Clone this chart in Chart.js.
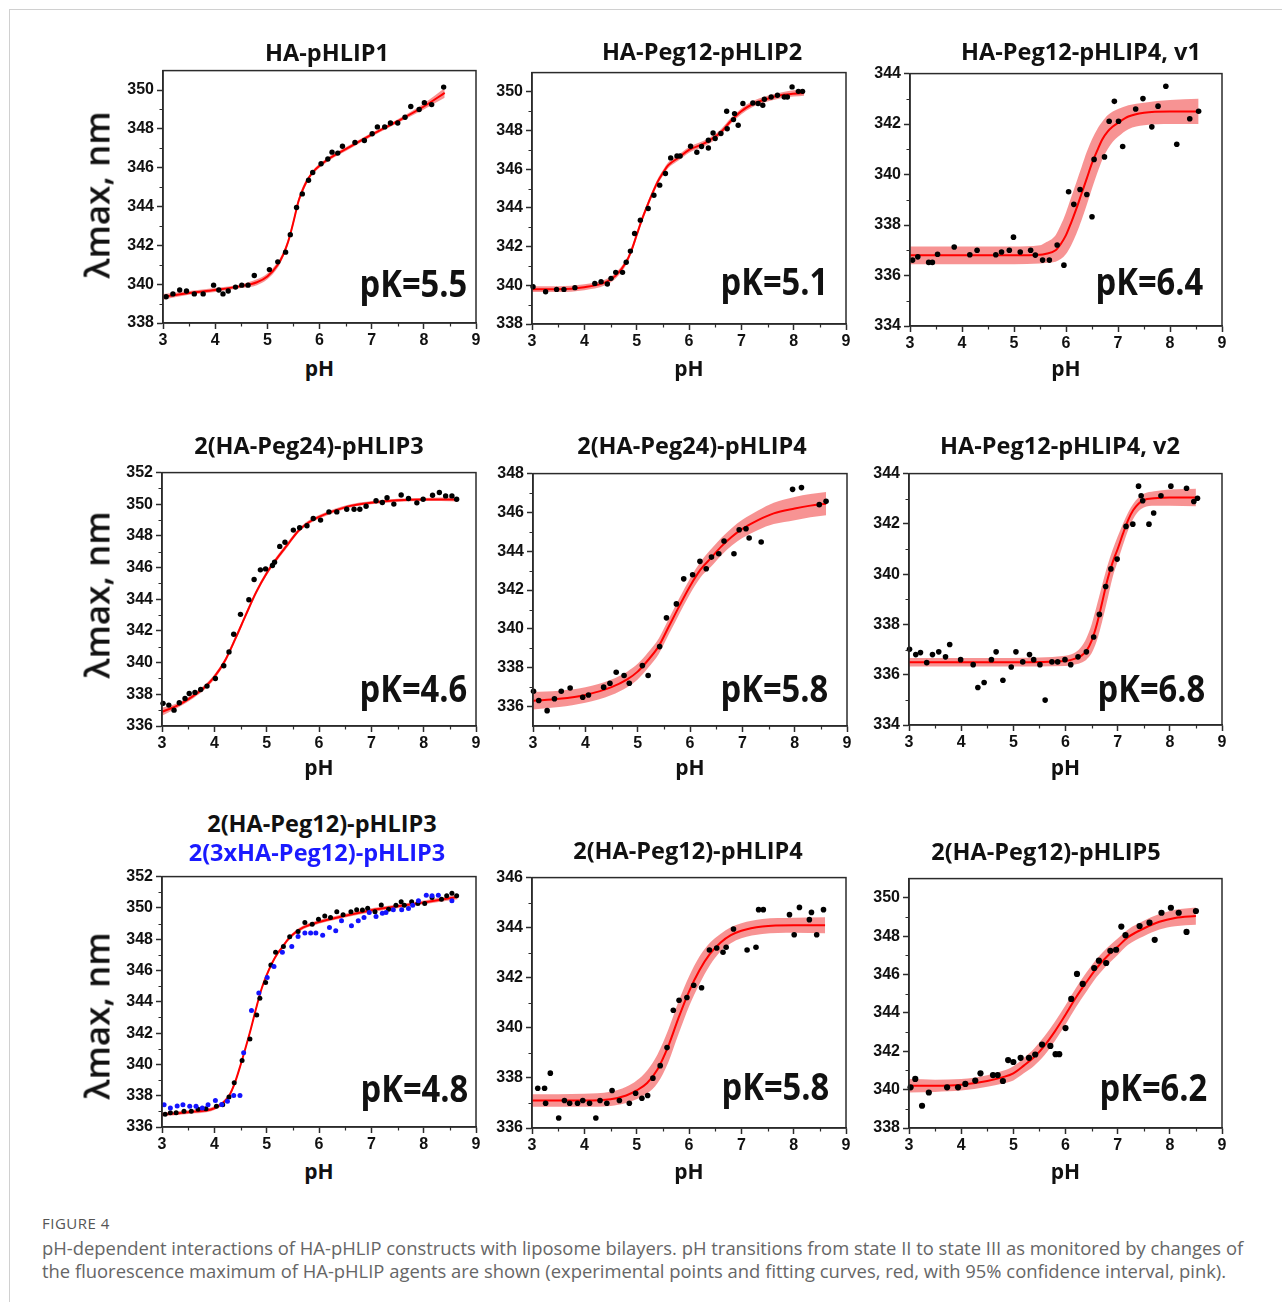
<!DOCTYPE html>
<html>
<head>
<meta charset="utf-8">
<script src="https://cdn.jsdelivr.net/npm/chart.js@4.4.1/dist/chart.umd.min.js"></script>
<style>
  body { margin: 0; width: 1282px; height: 1302px; background: #fff; position: relative; overflow: hidden; font-family: "Open Sans", sans-serif; }
  .frame { position: absolute; left: 9px; top: 9px; width: 1400px; height: 1400px; border-left: 1.5px solid #d0d0d0; border-top: 1.5px solid #d0d0d0; }
  .title { position: absolute; font-weight: 700; font-size: 23.5px; line-height: 1; white-space: nowrap; color: #111; transform: translateX(-50%); }
  .pk { position: absolute; font-weight: 700; font-size: 38px; line-height: 1; white-space: nowrap; color: #111; transform-origin: 100% 0; transform: scaleX(0.86); }
  .phlab { position: absolute; font-weight: 700; font-size: 21px; line-height: 1; color: #111; transform: translateX(-50%); }
  .ylab { position: absolute; font-size: 35px; font-weight: 600; line-height: 1; white-space: nowrap; color: #111; transform: translate(-50%, -50%) rotate(-90deg); }
  .fig { position: absolute; left: 42px; top: 1213px; font-size: 15px; color: #555; letter-spacing: 0.5px; }
  .cap { position: absolute; left: 42px; font-size: 18.4px; color: #666; white-space: nowrap; }
</style>
</head>
<body>
<div class="frame"></div>
<script>
// shared x ticks
const xTicks = [3, 4, 5, 6, 7, 8, 9];

// HA-pHLIP1
const p1Ticks = [338, 340, 342, 344, 346, 348, 350];
const p1PH = [3.06,3.19,3.32,3.45,3.6,3.77,3.97,4.07,4.15,4.25,4.39,4.51,4.63,4.75,5.04,5.2,5.35,5.44,5.56,5.67,5.79,5.87,6.03,6.16,6.24,6.35,6.44,6.68,6.86,7.01,7.11,7.25,7.36,7.5,7.64,7.75,7.91,8.01,8.15,8.38];
const p1Lam = [339.35,339.5,339.7,339.65,339.5,339.5,339.95,339.7,339.5,339.65,339.85,339.95,339.95,340.45,340.75,341.15,341.65,342.55,343.95,344.65,345.35,345.75,346.2,346.45,346.8,346.75,347.1,347.3,347.4,347.75,348.1,348.1,348.3,348.3,348.6,349.15,349.0,349.35,349.25,350.15];
const p1FitPH = [3.0,3.5,4.0,4.5,4.8,5.0,5.2,5.3,5.4,5.5,5.6,5.7,5.8,5.9,6.0,6.2,6.5,7.0,7.5,8.0,8.4];
const p1Fit = [339.35,339.55,339.7,339.9,340.1,340.4,341.0,341.5,342.2,343.2,344.3,345.0,345.5,345.85,346.1,346.5,346.95,347.7,348.4,349.15,349.85];
const p1Up = [339.5,339.65,339.8,340.0,340.25,340.55,341.15,341.65,342.35,343.35,344.45,345.15,345.6,345.95,346.2,346.6,347.05,347.8,348.5,349.3,350.1];
const p1Lo = [339.2,339.45,339.6,339.8,339.95,340.25,340.85,341.35,342.05,343.05,344.15,344.85,345.4,345.75,346.0,346.4,346.85,347.6,348.3,349.0,349.6];

// HA-Peg12-pHLIP2
const p2Ticks = [338, 340, 342, 344, 346, 348, 350];
const p2PH = [3.02,3.26,3.47,3.61,3.82,4.2,4.32,4.44,4.51,4.6,4.73,4.8,4.88,4.96,5.07,5.22,5.33,5.44,5.55,5.65,5.77,5.83,6.03,6.15,6.24,6.37,6.37,6.46,6.5,6.61,6.72,6.73,6.85,6.87,6.94,7.03,7.22,7.32,7.41,7.44,7.57,7.69,7.82,7.88,7.97,8.09,8.17];
const p2Lam = [339.93,339.67,339.79,339.79,339.88,340.1,340.19,340.07,340.36,340.67,340.67,341.19,341.77,342.68,343.37,343.97,344.66,345.18,345.78,346.59,346.69,346.69,347.19,346.88,347.18,347.1,347.5,347.88,347.59,347.85,349.0,348.1,348.57,348.88,348.28,349.4,349.43,349.4,349.31,349.62,349.74,349.83,349.74,349.74,350.26,350.03,350.03];
const p2FitPH = [3.0,3.5,4.0,4.4,4.6,4.8,4.9,5.0,5.1,5.2,5.3,5.4,5.5,5.6,5.8,6.0,6.3,6.6,6.8,7.0,7.2,7.5,7.8,8.2];
const p2Fit = [339.8,339.8,339.9,340.15,340.5,341.2,341.8,342.6,343.4,344.1,344.75,345.35,345.8,346.2,346.6,347.0,347.35,347.9,348.5,349.0,349.35,349.65,349.85,349.95];
const p2Up = [339.95,339.95,340.05,340.3,340.65,341.35,341.95,342.75,343.55,344.25,344.9,345.5,345.95,346.35,346.75,347.15,347.5,348.05,348.65,349.15,349.5,349.8,350.0,350.15];
const p2Lo = [339.65,339.65,339.75,340.0,340.35,341.05,341.65,342.45,343.25,343.95,344.6,345.2,345.65,346.05,346.45,346.85,347.2,347.75,348.35,348.85,349.2,349.5,349.7,349.8];

// HA-Peg12-pHLIP4, v1
const p3Ticks = [334, 336, 338, 340, 342, 344];
const p3PH = [3.05,3.15,3.36,3.43,3.53,3.85,4.15,4.29,4.65,4.76,4.91,4.99,5.12,5.32,5.41,5.55,5.68,5.83,5.96,6.05,6.15,6.27,6.4,6.5,6.54,6.74,6.83,6.93,7.01,7.09,7.34,7.48,7.65,7.77,7.92,8.13,8.38,8.55];
const p3Lam = [336.61,336.74,336.52,336.52,336.84,337.13,336.82,337.0,336.82,336.93,337.0,337.52,336.93,337.0,336.81,336.61,336.61,337.21,336.41,339.32,338.82,339.41,339.21,338.33,340.6,340.7,342.11,342.9,342.11,341.11,342.6,343.01,341.89,342.71,343.5,341.2,342.21,342.51];
const p3FitPH = [3.0,4.0,5.0,5.5,5.6,5.8,5.9,6.0,6.1,6.2,6.3,6.4,6.5,6.6,6.7,6.8,6.9,7.0,7.2,7.5,8.0,8.55];
const p3Fit = [336.8,336.8,336.8,336.82,336.85,337.0,337.25,337.6,338.1,338.65,339.25,339.85,340.45,340.95,341.4,341.7,341.9,342.05,342.3,342.45,342.5,342.5];
const p3Up = [337.15,337.15,337.15,337.2,337.3,337.6,338.0,338.5,339.1,339.7,340.3,340.9,341.4,341.8,342.1,342.35,342.5,342.6,342.75,342.85,342.95,343.0];
const p3Lo = [336.45,336.45,336.45,336.48,336.5,336.55,336.65,336.85,337.2,337.65,338.2,338.8,339.45,340.05,340.6,341.0,341.3,341.5,341.8,341.95,342.0,342.0];

// 2(HA-Peg24)-pHLIP3
const p4Ticks = [336, 338, 340, 342, 344, 346, 348, 350, 352];
const p4PH = [3.02,3.13,3.23,3.33,3.44,3.52,3.63,3.74,3.86,4.02,4.18,4.28,4.37,4.5,4.66,4.76,4.88,4.98,5.11,5.15,5.25,5.35,5.51,5.63,5.77,5.89,6.03,6.19,6.34,6.53,6.67,6.78,6.9,7.09,7.21,7.3,7.43,7.57,7.71,7.87,7.99,8.17,8.3,8.42,8.54,8.63];
const p4Lam = [337.43,337.32,337.0,337.47,337.74,338.05,338.12,338.3,338.52,339.0,339.8,340.68,341.79,343.05,343.97,345.25,345.86,345.92,346.13,346.34,347.34,347.6,348.37,348.52,348.64,349.1,349.0,349.52,349.52,349.69,349.69,349.69,349.88,350.22,350.11,350.41,350.01,350.59,350.36,350.09,350.32,350.57,350.74,350.53,350.53,350.32];
const p4FitPH = [3.0,3.3,3.6,3.8,4.0,4.2,4.4,4.6,4.8,5.0,5.2,5.4,5.6,5.8,6.0,6.3,6.6,7.0,7.5,8.0,8.65];
const p4Fit = [336.9,337.3,337.9,338.4,339.1,340.1,341.5,343.0,344.45,345.65,346.6,347.45,348.3,348.85,349.2,349.6,349.9,350.1,350.25,350.3,350.3];
const p4Up = [337.15,337.45,338.05,338.55,339.25,340.25,341.65,343.15,344.6,345.8,346.75,347.6,348.42,348.97,349.32,349.72,350.0,350.2,350.35,350.4,350.42];
const p4Lo = [336.65,337.15,337.75,338.25,338.95,339.95,341.35,342.85,344.3,345.5,346.45,347.3,348.18,348.73,349.08,349.48,349.8,350.0,350.15,350.2,350.18];

// 2(HA-Peg24)-pHLIP4
const p5Ticks = [336, 338, 340, 342, 344, 346, 348];
const p5PH = [3.01,3.11,3.27,3.41,3.54,3.71,3.95,4.06,4.35,4.47,4.59,4.74,4.84,5.09,5.2,5.42,5.55,5.74,5.88,6.05,6.19,6.31,6.41,6.55,6.65,6.84,6.94,7.07,7.13,7.36,7.96,8.13,8.47,8.6];
const p5Lam = [336.79,336.31,335.79,336.4,336.79,336.96,336.48,336.6,337.0,337.2,337.77,337.6,337.2,338.11,337.6,339.09,340.57,341.29,342.58,342.79,343.48,343.1,343.7,343.87,344.53,343.87,345.11,345.16,344.68,344.48,347.19,347.28,346.4,346.57];
const p5FitPH = [3.0,3.5,4.0,4.5,4.8,5.0,5.2,5.4,5.6,5.8,6.0,6.2,6.4,6.6,6.8,7.0,7.3,7.6,8.0,8.3,8.6];
const p5Fit = [336.3,336.4,336.6,337.0,337.4,337.8,338.4,339.1,340.15,341.2,342.2,343.05,343.65,344.25,344.75,345.15,345.6,345.95,346.2,346.35,346.45];
const p5Up = [336.75,336.82,337.0,337.4,337.8,338.2,338.8,339.5,340.55,341.6,342.6,343.45,344.1,344.7,345.2,345.62,346.1,346.5,346.8,346.95,347.05];
const p5Lo = [335.85,335.98,336.2,336.6,337.0,337.4,338.0,338.7,339.75,340.8,341.8,342.65,343.2,343.8,344.3,344.68,345.1,345.4,345.6,345.75,345.85];

// HA-Peg12-pHLIP4, v2
const p6Ticks = [334, 336, 338, 340, 342, 344];
const p6PH = [3.01,3.13,3.22,3.34,3.45,3.57,3.7,3.78,3.99,4.23,4.32,4.44,4.58,4.67,4.8,4.96,5.05,5.18,5.31,5.39,5.51,5.61,5.74,5.85,5.99,6.1,6.24,6.4,6.54,6.65,6.77,6.87,6.99,7.16,7.29,7.4,7.45,7.48,7.6,7.69,7.83,8.02,8.32,8.46,8.53];
const p6Lam = [337.01,336.8,336.88,336.48,336.8,336.91,336.71,337.2,336.6,336.4,335.49,335.69,336.6,336.91,335.78,336.31,336.91,336.51,336.8,336.6,336.4,334.99,336.51,336.51,336.6,336.4,336.71,336.91,337.5,338.4,339.51,340.21,340.6,341.9,341.99,343.5,343.12,342.92,341.99,342.43,343.12,343.5,343.42,342.89,343.02];
const p6FitPH = [3.0,4.0,5.0,6.0,6.2,6.3,6.4,6.5,6.6,6.7,6.8,6.9,7.0,7.1,7.2,7.3,7.4,7.5,7.7,8.0,8.5];
const p6Fit = [336.5,336.5,336.5,336.55,336.65,336.75,336.95,337.35,338.0,338.85,339.75,340.45,341.0,341.6,342.15,342.55,342.8,342.95,343.02,343.05,343.05];
const p6Up = [336.67,336.67,336.67,336.75,336.9,337.1,337.45,338.0,338.75,339.55,340.3,340.95,341.5,342.0,342.45,342.8,343.05,343.2,343.3,343.37,343.4];
const p6Lo = [336.33,336.33,336.33,336.35,336.42,336.48,336.6,336.85,337.35,338.1,338.95,339.85,340.5,341.15,341.75,342.2,342.5,342.65,342.72,342.72,342.7];

// 2(HA-Peg12)-pHLIP3 (black) and 2(3xHA-Peg12)-pHLIP3 (blue)
const p7Ticks = [336, 338, 340, 342, 344, 346, 348, 350, 352];
const p7PH = [3.06,3.16,3.27,3.42,3.56,3.69,3.84,4.04,4.16,4.28,4.38,4.53,4.68,4.81,4.87,4.98,5.08,5.17,5.32,5.44,5.6,5.73,5.87,5.99,6.11,6.22,6.34,6.46,6.61,6.72,6.83,6.93,7.07,7.19,7.33,7.47,7.57,7.63,7.77,7.89,8.02,8.16,8.34,8.44,8.54,8.63];
const p7Lam = [336.81,336.91,336.91,337.0,337.0,337.13,337.17,337.32,337.42,337.91,338.83,340.25,341.63,343.16,344.22,345.24,346.35,347.16,347.54,348.15,348.49,349.07,348.96,349.28,349.49,349.39,349.75,349.56,349.75,349.88,349.86,349.98,349.75,350.19,349.92,350.17,350.39,350.17,350.39,350.28,350.28,350.66,350.56,350.77,350.94,350.77];
const p7BluePH = [3.04,3.16,3.29,3.4,3.53,3.65,3.77,3.88,4.02,4.14,4.25,4.37,4.49,4.56,4.71,4.85,5.01,5.14,5.3,5.48,5.6,5.73,5.84,5.94,6.07,6.2,6.32,6.43,6.62,6.75,6.86,6.96,7.09,7.21,7.28,7.42,7.58,7.71,7.79,7.9,8.05,8.16,8.28,8.54];
const p7BlueLam = [337.42,337.21,337.34,337.42,337.32,337.32,337.21,337.42,337.7,337.44,337.64,338.02,338.02,340.74,343.44,344.56,345.56,346.26,347.16,347.54,348.18,348.39,348.39,348.39,348.26,348.75,348.54,349.18,348.86,349.18,349.39,349.71,349.45,349.66,349.71,349.88,349.88,349.96,350.17,350.45,350.81,350.77,350.81,350.45];
const p7FitPH = [3.0,3.5,4.0,4.2,4.3,4.4,4.5,4.6,4.7,4.8,4.9,5.0,5.1,5.2,5.3,5.4,5.5,5.7,6.0,6.5,7.0,7.5,8.0,8.65];
const p7Fit = [336.8,336.95,337.2,337.65,338.1,338.9,339.95,341.1,342.3,343.6,344.8,345.7,346.45,347.05,347.5,347.95,348.3,348.75,349.1,349.5,349.85,350.1,350.35,350.7];
const p7Up = [336.92,337.07,337.32,337.77,338.22,339.02,340.07,341.22,342.42,343.72,344.92,345.82,346.57,347.17,347.62,348.07,348.42,348.87,349.22,349.62,349.97,350.22,350.47,350.85];
const p7Lo = [336.68,336.83,337.08,337.53,337.98,338.78,339.83,340.98,342.18,343.48,344.68,345.58,346.33,346.93,347.38,347.83,348.18,348.63,348.98,349.38,349.73,349.98,350.23,350.55];

// 2(HA-Peg12)-pHLIP4
const p8Ticks = [336, 338, 340, 342, 344, 346];
const p8PH = [3.11,3.24,3.26,3.35,3.51,3.62,3.72,3.87,3.97,4.1,4.22,4.3,4.43,4.53,4.67,4.86,4.98,5.1,5.21,5.31,5.45,5.58,5.7,5.81,5.96,6.09,6.24,6.39,6.53,6.65,6.71,6.85,7.11,7.28,7.33,7.42,7.92,8.01,8.11,8.3,8.34,8.44,8.57];
const p8Lam = [337.59,337.59,336.99,338.19,336.4,337.1,336.99,336.99,337.1,336.99,336.4,337.1,336.99,337.5,337.1,336.99,337.39,337.19,337.3,337.99,338.49,339.21,340.7,341.1,341.21,341.7,341.6,343.11,343.19,343.02,343.22,343.95,343.11,343.22,344.72,344.72,344.52,343.72,344.81,344.32,344.61,343.72,344.72];
const p8FitPH = [3.0,4.0,4.5,4.8,5.0,5.2,5.4,5.6,5.8,6.0,6.2,6.4,6.6,6.8,7.0,7.4,8.0,8.6];
const p8Fit = [337.1,337.1,337.15,337.3,337.5,337.8,338.35,339.25,340.4,341.45,342.3,342.95,343.4,343.7,343.88,344.05,344.1,344.1];
const p8Up = [337.35,337.37,337.45,337.65,337.9,338.3,338.95,339.9,341.05,342.05,342.85,343.4,343.75,344.02,344.18,344.35,344.4,344.42];
const p8Lo = [336.85,336.85,336.88,337.0,337.15,337.38,337.8,338.6,339.75,340.85,341.75,342.5,343.05,343.38,343.58,343.75,343.8,343.78];

// 2(HA-Peg12)-pHLIP5
const p9Ticks = [338, 340, 342, 344, 346, 348, 350];
const p9PH = [3.03,3.12,3.25,3.38,3.73,3.94,4.08,4.27,4.37,4.61,4.7,4.8,4.9,5.0,5.14,5.3,5.42,5.55,5.71,5.81,5.88,6.0,6.11,6.22,6.33,6.55,6.64,6.78,6.86,6.97,7.07,7.15,7.42,7.61,7.71,7.84,8.02,8.17,8.32,8.5];
const p9Lam = [340.12,340.56,339.16,339.85,340.12,340.12,340.3,340.47,340.85,340.76,340.76,340.45,341.54,341.44,341.66,341.66,341.83,342.35,342.28,341.85,341.85,343.21,344.73,346.03,345.51,346.34,346.72,346.6,347.24,347.29,348.5,348.05,348.53,348.7,347.81,349.22,349.48,349.22,348.22,349.31];
const p9FitPH = [3.0,3.5,4.0,4.5,4.8,5.0,5.2,5.4,5.6,5.8,6.0,6.2,6.4,6.6,6.8,7.0,7.2,7.5,7.8,8.1,8.5];
const p9Fit = [340.2,340.2,340.25,340.45,340.65,340.85,341.25,341.7,342.3,343.05,343.9,344.8,345.6,346.35,346.95,347.45,347.95,348.4,348.75,348.95,349.05];
const p9Up = [340.55,340.52,340.55,340.75,340.98,341.22,341.65,342.15,342.8,343.55,344.4,345.3,346.1,346.82,347.4,347.88,348.35,348.8,349.15,349.38,349.5];
const p9Lo = [339.85,339.88,339.95,340.15,340.32,340.48,340.85,341.25,341.8,342.55,343.4,344.3,345.1,345.88,346.5,347.02,347.55,348.0,348.35,348.52,348.6];

const titles = ["HA-pHLIP1", "HA-Peg12-pHLIP2", "HA-Peg12-pHLIP4, v1", "2(HA-Peg24)-pHLIP3", "2(HA-Peg24)-pHLIP4", "HA-Peg12-pHLIP4, v2", "2(HA-Peg12)-pHLIP3", "2(HA-Peg12)-pHLIP4", "2(HA-Peg12)-pHLIP5"];
const pkLabels = ["pK=5.5", "pK=5.1", "pK=6.4", "pK=4.6", "pK=5.8", "pK=6.8", "pK=4.8", "pK=5.8", "pK=6.2"];

// layout: plot box [left, top, right, bottom], title centre/baseline, pK right/baseline
const panels = [
  { box: [163, 70, 476, 323], y: [338, 351], ticks: p1Ticks, ph: p1PH, lam: p1Lam, fitPH: p1FitPH, fit: p1Fit, up: p1Up, lo: p1Lo, r: 2.7, t: [327, 62], k: [467, 297], phY: 377 },
  { box: [532, 72, 846, 324], y: [338, 351], ticks: p2Ticks, ph: p2PH, lam: p2Lam, fitPH: p2FitPH, fit: p2Fit, up: p2Up, lo: p2Lo, r: 2.7, t: [702, 61], k: [828, 295], phY: 377 },
  { box: [910, 73, 1222, 326], y: [334, 344], ticks: p3Ticks, ph: p3PH, lam: p3Lam, fitPH: p3FitPH, fit: p3Fit, up: p3Up, lo: p3Lo, r: 2.8, t: [1081, 61], k: [1203, 295], phY: 377 },
  { box: [162, 472, 476, 726], y: [336, 352], ticks: p4Ticks, ph: p4PH, lam: p4Lam, fitPH: p4FitPH, fit: p4Fit, up: p4Up, lo: p4Lo, r: 2.7, t: [309, 455], k: [467, 702], phY: 776 },
  { box: [533, 473, 847, 726], y: [335, 348], ticks: p5Ticks, ph: p5PH, lam: p5Lam, fitPH: p5FitPH, fit: p5Fit, up: p5Up, lo: p5Lo, r: 2.8, t: [692, 455], k: [828, 702], phY: 776 },
  { box: [909, 473, 1222, 725], y: [334, 344], ticks: p6Ticks, ph: p6PH, lam: p6Lam, fitPH: p6FitPH, fit: p6Fit, up: p6Up, lo: p6Lo, r: 2.8, t: [1060, 455], k: [1205, 702], phY: 776 },
  { box: [162, 876, 476, 1127], y: [336, 352], ticks: p7Ticks, ph: p7PH, lam: p7Lam, fitPH: p7FitPH, fit: p7Fit, up: p7Up, lo: p7Lo, r: 2.5, t: [322, 833], k: [468, 1102], phY: 1180,
    blue: { ph: p7BluePH, lam: p7BlueLam } },
  { box: [532, 877, 846, 1128], y: [336, 346], ticks: p8Ticks, ph: p8PH, lam: p8Lam, fitPH: p8FitPH, fit: p8Fit, up: p8Up, lo: p8Lo, r: 2.8, t: [688, 860], k: [829, 1100], phY: 1180 },
  { box: [909, 878, 1222, 1128], y: [338, 351], ticks: p9Ticks, ph: p9PH, lam: p9Lam, fitPH: p9FitPH, fit: p9Fit, up: p9Up, lo: p9Lo, r: 3.1, t: [1046, 861], k: [1207, 1101], phY: 1180 }
];

const AXIS = "#2b2b2b";
const PAD = { l: 55, t: 12, r: 15, b: 30 };

// frame on top/right plus half-step minor ticks
const framePlugin = {
  id: "frame",
  afterDraw(chart) {
    const { ctx, chartArea: a, scales: { x, y } } = chart;
    ctx.save();
    ctx.strokeStyle = AXIS;
    ctx.lineWidth = 1.5;
    ctx.strokeRect(a.left, a.top, a.right - a.left, a.bottom - a.top);
    ctx.beginPath();
    for (let i = 0; i < x.ticks.length - 1; i++) {
      const px = Math.round(x.getPixelForValue((x.ticks[i].value + x.ticks[i + 1].value) / 2)) + 0.5;
      ctx.moveTo(px, a.bottom);
      ctx.lineTo(px, a.bottom + 3.5);
    }
    for (let i = 0; i < y.ticks.length - 1; i++) {
      const py = Math.round(y.getPixelForValue((y.ticks[i].value + y.ticks[i + 1].value) / 2)) + 0.5;
      ctx.moveTo(a.left, py);
      ctx.lineTo(a.left - 3.5, py);
    }
    ctx.lineWidth = 1.2;
    ctx.stroke();
    ctx.restore();
  }
};

const pts = (xs, ys) => xs.map((v, i) => ({ x: v, y: ys[i] }));

function addText(cls, text, css) {
  const d = document.createElement("div");
  d.className = cls;
  d.textContent = text;
  d.style.cssText = css;
  document.body.appendChild(d);
  return d;
}

panels.forEach((p, idx) => {
  const [L, T, R, B] = p.box;
  const canvas = document.createElement("canvas");
  canvas.width = R - L + PAD.l + PAD.r;
  canvas.height = B - T + PAD.t + PAD.b;
  canvas.style.cssText = `position:absolute;left:${L - PAD.l}px;top:${T - PAD.t}px;`;
  document.body.appendChild(canvas);

  const datasets = [
    { data: pts(p.fitPH, p.lo), borderWidth: 0, pointRadius: 0, fill: false, cubicInterpolationMode: "monotone", order: 4 },
    { data: pts(p.fitPH, p.up), borderWidth: 0, pointRadius: 0, fill: "-1", backgroundColor: "rgba(240,40,40,0.5)", cubicInterpolationMode: "monotone", order: 4 },
    { data: pts(p.fitPH, p.fit), borderColor: "#ff0000", borderWidth: 2, pointRadius: 0, fill: false, cubicInterpolationMode: "monotone", order: 3 },
    { data: pts(p.ph, p.lam), showLine: false, pointRadius: p.r, pointBorderWidth: 0, pointBackgroundColor: "#000", clip: false, order: 2 }
  ];
  if (p.blue) {
    datasets.push({ data: pts(p.blue.ph, p.blue.lam), showLine: false, pointRadius: p.r, pointBorderWidth: 0, pointBackgroundColor: "#1414ff", clip: false, order: 1 });
  }

  const tickFont = { family: "'Liberation Sans', Arial, sans-serif", size: 16, weight: "bold" };
  const grid = { drawOnChartArea: false, drawTicks: true, tickLength: 6, tickWidth: 1.5, tickColor: AXIS, color: AXIS };
  const border = { display: true, color: AXIS, width: 1.5 };

  new Chart(canvas, {
    type: "line",
    data: { datasets },
    options: {
      responsive: false,
      animation: false,
      events: [],
      layout: { padding: { top: PAD.t, right: PAD.r, left: 0, bottom: 0 } },
      plugins: { legend: { display: false }, tooltip: { enabled: false } },
      scales: {
        x: {
          type: "linear", min: 3, max: 9,
          afterBuildTicks: (s) => { s.ticks = xTicks.map((v) => ({ value: v })); },
          afterFit: (s) => { s.height = PAD.b; },
          grid, border,
          ticks: { font: tickFont, color: "#111", padding: 2, maxRotation: 0, autoSkip: false }
        },
        y: {
          type: "linear", min: p.y[0], max: p.y[1],
          afterBuildTicks: (s) => { s.ticks = p.ticks.map((v) => ({ value: v })); },
          afterFit: (s) => { s.width = PAD.l; },
          grid, border,
          ticks: { font: tickFont, color: "#111", padding: 3, autoSkip: false }
        }
      }
    },
    plugins: [framePlugin]
  });

  // title, pK and pH label
  addText("title", titles[idx], `left:${p.t[0]}px;top:${p.t[1] - 21}px;`);
  if (idx === 6) {
    addText("title", "2(3xHA-Peg12)-pHLIP3", `left:317px;top:${862 - 21}px;color:#1a1aff;`);
  }
  addText("pk", pkLabels[idx], `right:${1282 - p.k[0]}px;top:${p.k[1] - 34}px;`);
  addText("phlab", "pH", `left:${(L + R) / 2}px;top:${p.phY - 19}px;`);
});

// row y-axis labels
[195, 595, 1016].forEach((cy) => addText("ylab", "λmax, nm", `left:96px;top:${cy}px;`));

addText("fig", "FIGURE 4", "");
addText("cap", "pH-dependent interactions of HA-pHLIP constructs with liposome bilayers. pH transitions from state II to state III as monitored by changes of", "top:1235px;");
addText("cap", "the fluorescence maximum of HA-pHLIP agents are shown (experimental points and fitting curves, red, with 95% confidence interval, pink).", "top:1258px;");
</script>
</body>
</html>
